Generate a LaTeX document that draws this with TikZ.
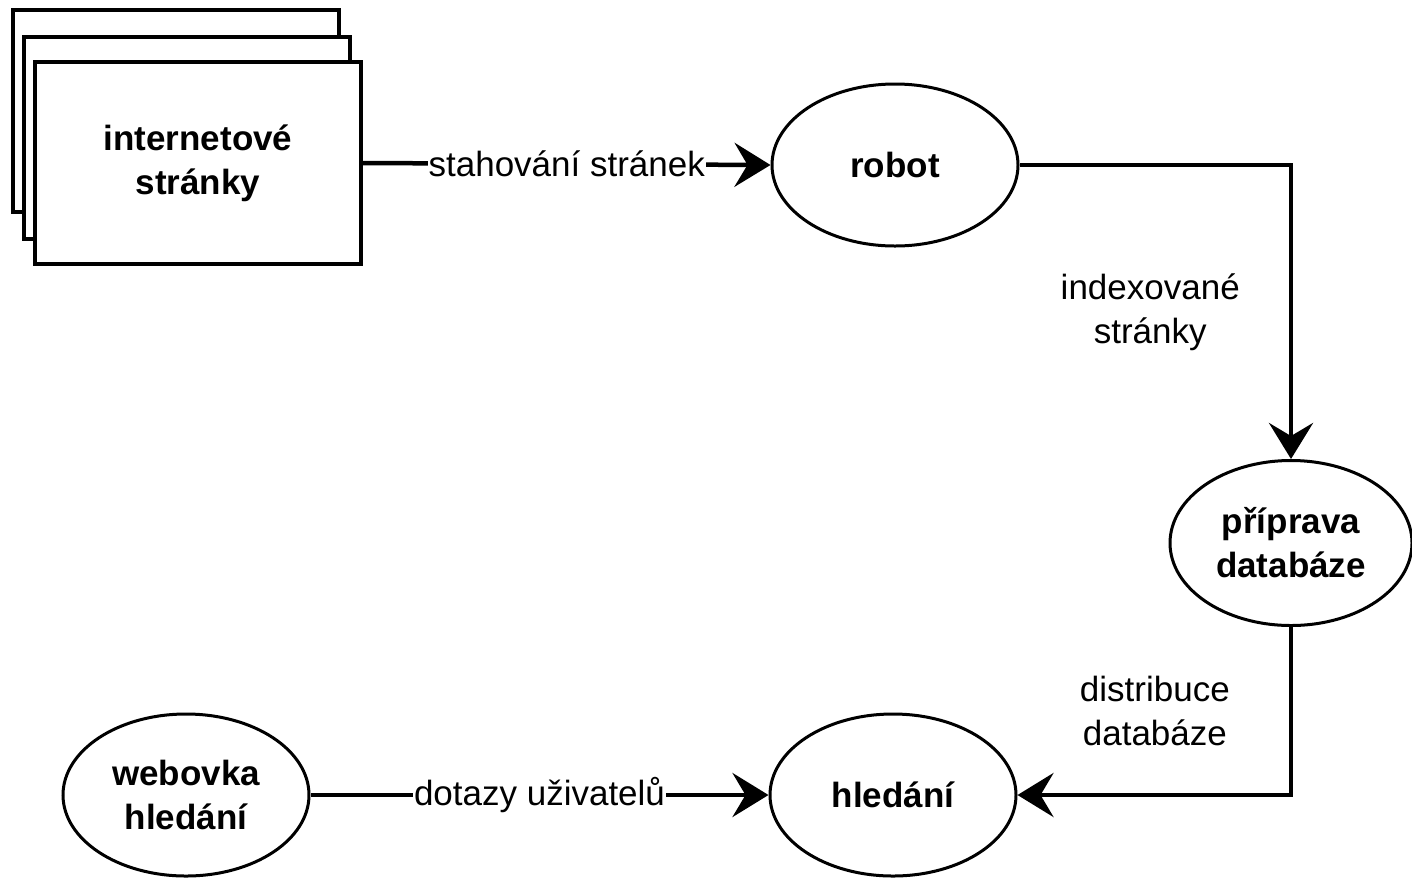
\documentclass[tikz,border=0pt]{standalone}
\usepackage{fontspec}
\setmainfont{Liberation Sans}
\usetikzlibrary{shapes.geometric,arrows.meta}
\begin{document}
\begin{tikzpicture}[x=1pt,y=-1pt,
  every node/.style={font=\fontsize{35}{44}\selectfont},
  proc/.style={ellipse, draw, line width=3pt, inner sep=0pt, align=center,
    minimum width=246pt, minimum height=162pt, font=\fontsize{35}{44}\selectfont\bfseries},
  sheet/.style={rectangle, draw, line width=4pt, fill=white, inner sep=0pt,
    minimum width=326pt, minimum height=202pt},
  flow/.style={line width=4.5pt, -{Stealth[length=36pt,width=44pt,inset=13pt]}},
  lbl/.style={align=center, inner sep=1pt}]
\useasboundingbox (0,0) rectangle (1412,879);

% stacked pages
\node[sheet] (pagesc) at (176,111) {};
\node[sheet] (pagesb) at (187,138) {};
\node[sheet, align=center, font=\fontsize{35}{44}\selectfont\bfseries] (pages) at (198,163) {internetové\\stránky};

% processes
\node[proc] (robot)    at (895,165) {robot};
\node[proc, minimum width=242pt, minimum height=165pt] (priprava) at (1291,543) {příprava\\databáze};
\node[proc] (hledani)  at (893,795) {hledání};
\node[proc] (webovka)  at (186,795) {webovka\\hledání};

% connectors
\draw[flow] (pages.east) -- node[lbl, fill=white] {stahování stránek} (robot.west);
\draw[flow] (robot.east) -| node[lbl, pos=0.75, left=48pt] {indexované\\stránky} (priprava.north);
\draw[flow] (priprava.south) |- node[lbl, pos=0.25, left=58pt] {distribuce\\databáze} (hledani.east);
\draw[flow] (webovka.east) -- node[lbl, fill=white] {dotazy uživatelů} (hledani.west);
\end{tikzpicture}
\end{document}
